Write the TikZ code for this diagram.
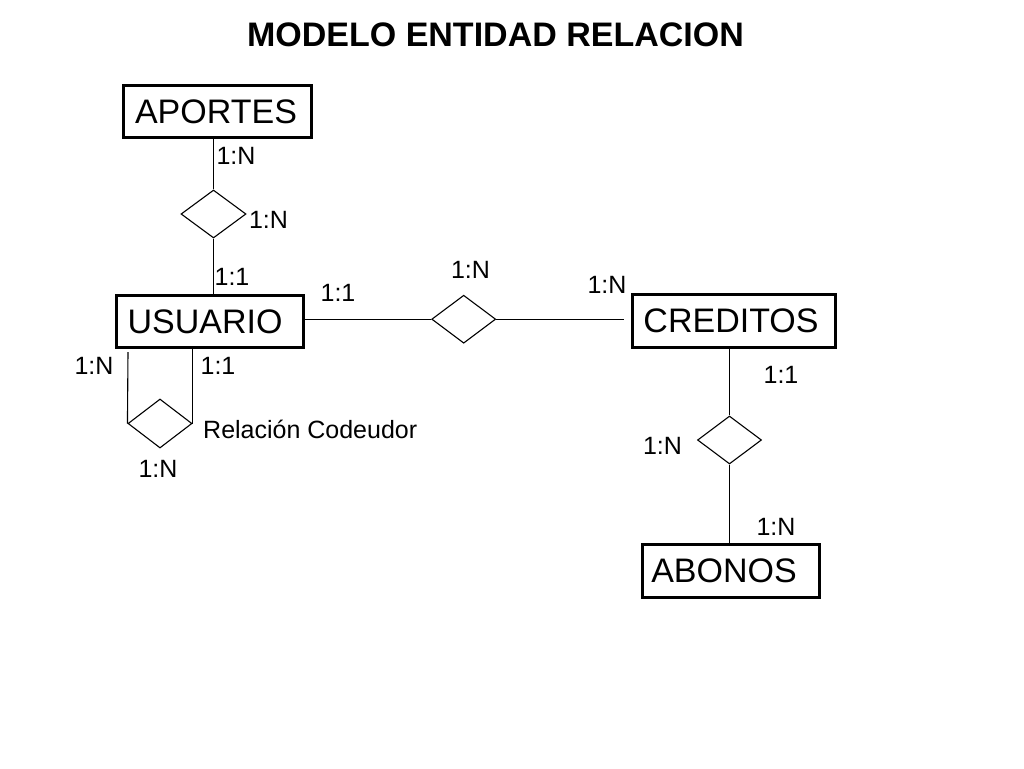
\documentclass[tikz,border=0pt]{standalone}
\usepackage{fontspec}
\setmainfont{Liberation Sans}
\usetikzlibrary{shapes.geometric}
\tikzset{
  entity/.style={draw, line width=3pt, inner sep=0pt,
    text height=24.3pt, text depth=0pt,
    font=\fontsize{34}{40}\selectfont},
  rel/.style={draw, diamond, line width=1.1pt, inner sep=0pt},
  lbl/.style={inner sep=0pt, anchor=base, font=\fontsize{25}{29}\selectfont},
  conn/.style={line width=1.1pt},
  ttl/.style={inner sep=0pt, anchor=base, font=\fontsize{34}{40}\selectfont\bfseries}
}
\begin{document}
\begin{tikzpicture}[x=1pt,y=-1pt]
\useasboundingbox (0,0) rectangle (1024,768);
\fill[white] (0,0) rectangle (1024,768);

\node[ttl] (title) at (495.5,46.7) {MODELO ENTIDAD RELACION};

% entities
\node[entity, minimum width=188pt, minimum height=52pt] (aportes) at (217,111) {APORTES\kern2pt};
\node[entity, minimum width=187pt, minimum height=52pt] (usuario) at (209.5,321) {USUARIO\kern9pt};
\node[entity, minimum width=203pt, minimum height=53pt] (creditos) at (733.5,320.5) {CREDITOS\kern5pt};
\node[entity, minimum width=177pt, minimum height=53pt] (abonos) at (730.5,570.5) {ABONOS\kern13pt};

% relationships
\node[rel, minimum width=65pt, minimum height=48pt] (d1) at (213.5,214) {};
\node[rel, minimum width=64pt, minimum height=48pt] (d2) at (463.7,319.2) {};
\node[rel, minimum width=64pt, minimum height=48pt] (d3) at (729.5,440) {};
\node[rel, minimum width=64pt, minimum height=49pt] (d4) at (160,423.5) {};

\coordinate (cend) at (624,319.2);
\coordinate (cleft) at (128,352);

% connectors
\draw[conn] (d1.north) -- (d1.north |- aportes.south);
\draw[conn] (d1.south) -- (d1.south |- usuario.north);
\draw[conn] (d2.west -| usuario.east) -- (d2.west);
\draw[conn] (d2.east) -- (cend);
\draw[conn] (d3.north |- creditos.south) -- (d3.north);
\draw[conn] (d3.south) -- (d3.south |- abonos.north);
\draw[conn] (d4.east |- usuario.south) -- (d4.east);
\draw[conn] (cleft) -- (d4.west);

% labels
\node[lbl] (l1) at (236,164) {1:N};
\node[lbl] (l2) at (268.5,228) {1:N};
\node[lbl] (l3) at (232,285) {1:1};
\node[lbl] (l4) at (338,301.5) {1:1};
\node[lbl] (l5) at (470.5,278) {1:N};
\node[lbl] (l6) at (607,293) {1:N};
\node[lbl] (l7) at (781,383) {1:1};
\node[lbl] (l8) at (662.5,454) {1:N};
\node[lbl] (l9) at (776,535) {1:N};
\node[lbl] (l10) at (94,374) {1:N};
\node[lbl] (l11) at (218,374) {1:1};
\node[lbl] (l12) at (158,477) {1:N};
\node[lbl, anchor=base west] (codeudor) at (203,438) {Relación Codeudor};
\end{tikzpicture}
\end{document}
